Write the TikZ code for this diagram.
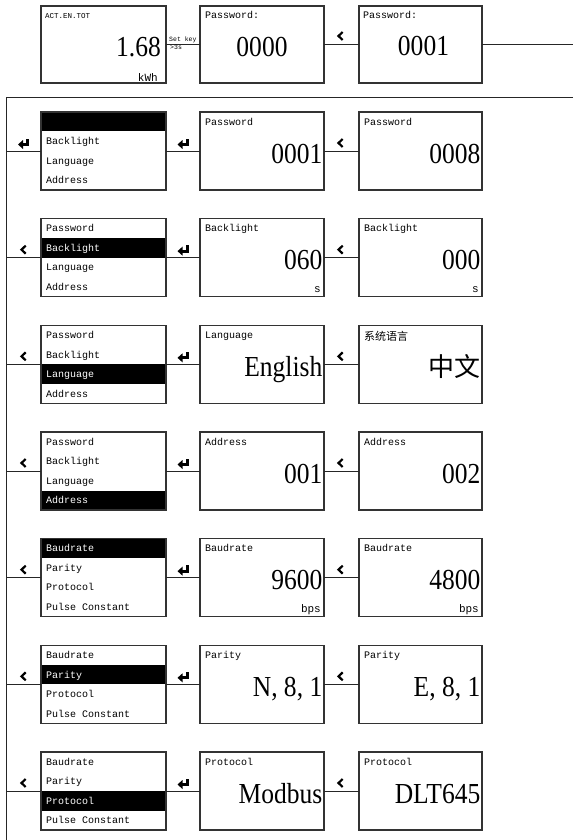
\documentclass[tikz,border=0pt]{standalone}
\usepackage{fontspec}
\setmainfont{Liberation Serif}
\newfontfamily\monof{Liberation Mono}
\newfontfamily\bigf[FakeStretch=0.88]{Liberation Serif}
\newfontfamily\cjk{Noto Sans CJK SC}
\usetikzlibrary{calc}

\tikzset{
  boxline/.style={draw=black!80, line width=1.2pt},
  vbox/.style={boxline, rectangle, anchor=north west, inner sep=0pt, outer sep=0pt, minimum height=78pt, minimum width=124pt},
  conn/.style={draw=black!85, line width=0.9pt},
  ttl/.style={font=\monof\fontsize{10}{10}\selectfont, inner sep=0pt, anchor=base west},
  itemt/.style={font=\monof\fontsize{10}{10}\selectfont, inner sep=0pt, anchor=base west},
  val/.style={font=\bigf\fontsize{29}{29}\selectfont, inner sep=0pt, anchor=base east},
  unitf/.style={font=\monof\fontsize{11}{11}\selectfont, inner sep=0pt, anchor=base east},
  tinyl/.style={font=\monof\fontsize{6.5}{6.5}\selectfont, inner sep=0pt, anchor=base west},
  chev/.pic={\draw[line width=2.2pt, line join=miter, line cap=butt] (2.2,-4) -- (-2,0) -- (2.2,4);},
  enter/.pic={\fill (-5.5,1.5) -- (-0.5,-3) -- (-0.5,6) -- cycle;
              \draw[line width=3pt] (-1,1.5) -- (4,1.5) -- (4,-4.5);}
}

% menu box: name, top, highlighted row, four items
\newcommand\menuboxdraw[7]{%
  \fill[black] (41,{#2+19.5*(#3-1)}) rectangle ++(125,19.5);
  \node[vbox, minimum width=125pt] (#1) at (41,#2) {};
  \foreach \i/\t in {1/{#4},2/{#5},3/{#6},4/{#7}}{%
    \ifnum\i=#3 \def\tc{white}\else\def\tc{black}\fi
    \node[itemt, text=\tc] (#1-\i) at (46,{#2+19.5*(\i-1)+13.2}) {\t};
  }%
}
% value box: name, left, top, width, title, value, unit
\newcommand\valboxdraw[7]{%
  \node[vbox, minimum width=#4pt] (#1) at (#2,#3) {};
  \node[ttl] (#1-t) at ({#2+5},{#3+13}) {#5};
  \node[val] (#1-v) at ({#2+#4-1.5},{#3+51}) {#6};
  \if\relax\detokenize{#7}\relax\else
    \node[unitf] (#1-u) at ({#2+#4-3},{#3+73.5}) {#7};
  \fi
}
% links of one row: index, line y, left icon
\newcommand\rowlinks[3]{%
  \coordinate (L#1) at (6,#2);
  \draw[conn] (L#1) -- (m#1);
  \draw[conn] (m#1) -- (b#1);
  \draw[conn] (b#1) -- (c#1);
  \pic at ($(L#1)!0.5!(m#1.west)+(0,-8)$) {#3};
  \pic at ($(m#1.east)!0.5!(b#1.west)+(0,-8)$) {enter};
  \pic at ($(b#1.east)!0.5!(c#1.west)+(-1,-8)$) {chev};
}

\begin{document}
\begin{tikzpicture}[x=1pt,y=-1pt]
\useasboundingbox (0,0) rectangle (573,840);

% top row
\node[vbox, minimum width=125pt, minimum height=77pt] (a1) at (41,6) {};
\node[tinyl, font=\monof\fontsize{7.5}{7.5}\selectfont] (a1-t) at (45,18.5) {ACT.EN.TOT};
\node[val] (a1-v) at (161,57) {1.68};
\node[unitf] (a1-u) at (158,81.5) {kWh};

\node[vbox, minimum width=124pt, minimum height=77pt] (a2) at (200,6) {};
\node[ttl] (a2-t) at (205,19) {Password:};
\node[val, anchor=base] (a2-v) at (262,57) {0000};

\node[vbox, minimum width=123pt, minimum height=77pt] (a3) at (359,6) {};
\node[ttl] (a3-t) at (363,19) {Password:};
\node[val, anchor=base] (a3-v) at (423.5,56) {0001};

\draw[conn] (a1) -- (a2);
\node[tinyl] (k1) at (169,42) {Set key};
\node[tinyl] (k2) at (170,49.5) {>3s};
\draw[conn] (a2) -- (a3);
\pic at ($(a2.east)!0.5!(a3.west)+(-1,-8.5)$) {chev};
\coordinate (rt) at (573,44.5);
\draw[conn] (a3) -- (rt);

\coordinate (R0) at (573,97.5);
\coordinate (L0) at (6,97.5);
\coordinate (Lb) at (6,840);
\draw[conn] (R0) -- (L0) -- (Lb);

% row 1
\menuboxdraw{m1}{112}{1}{}{Backlight}{Language}{Address}
\valboxdraw{b1}{200}{112}{124}{Password}{0001}{}
\valboxdraw{c1}{359}{112}{123}{Password}{0008}{}
\rowlinks{1}{151}{enter}

% row 2
\menuboxdraw{m2}{218.67}{2}{Password}{Backlight}{Language}{Address}
\valboxdraw{b2}{200}{218.67}{124}{Backlight}{060}{s}
\valboxdraw{c2}{359}{218.67}{123}{Backlight}{000}{s}
\rowlinks{2}{257.67}{chev}

% row 3
\menuboxdraw{m3}{325.33}{3}{Password}{Backlight}{Language}{Address}
\valboxdraw{b3}{200}{325.33}{124}{Language}{English}{}
\valboxdraw{c3}{359}{325.33}{123}{\cjk\fontsize{11}{11}\selectfont\raisebox{-2pt}{系统语言}}{\cjk\fontsize{26}{26}\selectfont 中文}{}
\rowlinks{3}{364.33}{chev}

% row 4
\menuboxdraw{m4}{432}{4}{Password}{Backlight}{Language}{Address}
\valboxdraw{b4}{200}{432}{124}{Address}{001}{}
\valboxdraw{c4}{359}{432}{123}{Address}{002}{}
\rowlinks{4}{471}{chev}

% row 5
\menuboxdraw{m5}{538.67}{1}{Baudrate}{Parity}{Protocol}{Pulse Constant}
\valboxdraw{b5}{200}{538.67}{124}{Baudrate}{9600}{bps}
\valboxdraw{c5}{359}{538.67}{123}{Baudrate}{4800}{bps}
\rowlinks{5}{577.67}{chev}

% row 6
\menuboxdraw{m6}{645.33}{2}{Baudrate}{Parity}{Protocol}{Pulse Constant}
\valboxdraw{b6}{200}{645.33}{124}{Parity}{N, 8, 1}{}
\valboxdraw{c6}{359}{645.33}{123}{Parity}{E, 8, 1}{}
\rowlinks{6}{684.33}{chev}

% row 7
\menuboxdraw{m7}{752}{3}{Baudrate}{Parity}{Protocol}{Pulse Constant}
\valboxdraw{b7}{200}{752}{124}{Protocol}{Modbus}{}
\valboxdraw{c7}{359}{752}{123}{Protocol}{DLT645}{}
\rowlinks{7}{791}{chev}
\end{tikzpicture}
\end{document}
